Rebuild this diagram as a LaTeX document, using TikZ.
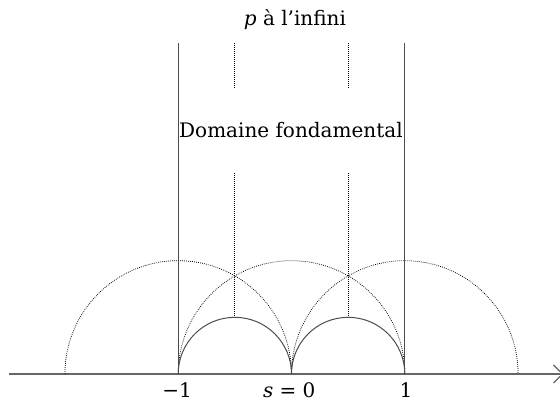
\documentclass[tikz,border=0pt]{standalone}
\usepackage{fontspec}
\setmainfont{DejaVu Serif}
\usetikzlibrary{arrows.meta}
\begin{document}
\begin{tikzpicture}[x=113.3pt,y=113.3pt,
  solidline/.style={draw=black!70,line width=1pt},
  axisline/.style={draw=black!60,line width=1.3pt},
  dotline/.style={draw=black,line width=0.75pt,dash pattern=on 0.8pt off 1.2pt},
  lab/.style={font=\fontsize{20}{24}\selectfont,inner sep=0pt,anchor=base}]
\useasboundingbox (-2.573,-0.2824) rectangle (2.370,3.301);
% axis
\coordinate (axL) at (-2.493,0);
\coordinate (axR) at (2.40,0);
\draw[axisline,-{Straight Barb[length=9pt,width=18pt,line width=1.3pt]}] (axL) -- (axR);
% key points
\coordinate (m2) at (-2,0);
\coordinate (m1) at (-1,0);
\coordinate (z0) at (0,0);
\coordinate (p1) at (1,0);
\coordinate (m1t) at (-1,2.921);
\coordinate (p1t) at (1,2.921);
% dotted verticals
\coordinate (mh1) at (-0.5,2.921);
\coordinate (mh2) at (-0.5,2.524);
\coordinate (mh3) at (-0.5,1.774);
\coordinate (mh4) at (-0.5,0.5);
\coordinate (ph1) at (0.5,2.921);
\coordinate (ph2) at (0.5,2.524);
\coordinate (ph3) at (0.5,1.774);
\coordinate (ph4) at (0.5,0.5);
\draw[dotline] (mh1) -- (mh2);
\draw[dotline] (mh3) -- (mh4);
\draw[dotline] (ph1) -- (ph2);
\draw[dotline] (ph3) -- (ph4);
% large dotted semicircles
\draw[dotline] (m2) arc[start angle=180,end angle=0,radius=1];
\draw[dotline] (m1) arc[start angle=180,end angle=0,radius=1];
\draw[dotline] (z0) arc[start angle=180,end angle=0,radius=1];
% solid verticals
\draw[solidline] (m1) -- (m1t);
\draw[solidline] (p1) -- (p1t);
% small solid semicircles
\draw[solidline] (m1) arc[start angle=180,end angle=0,radius=0.5];
\draw[solidline] (z0) arc[start angle=180,end angle=0,radius=0.5];
% labels
\node[lab] (lm1) at (-1.01,-0.208) {−1};
\node[lab] (ls0) at (-0.02,-0.208) {\textit{s} = 0};
\node[lab] (lp1) at (1.01,-0.208) {1};
\node[lab] (dom) at (-0.005,2.083) {Domaine fondamental};
\node[lab] (inf) at (0.03,3.080) {\textit{p} à l’infini};
\end{tikzpicture}
\end{document}
